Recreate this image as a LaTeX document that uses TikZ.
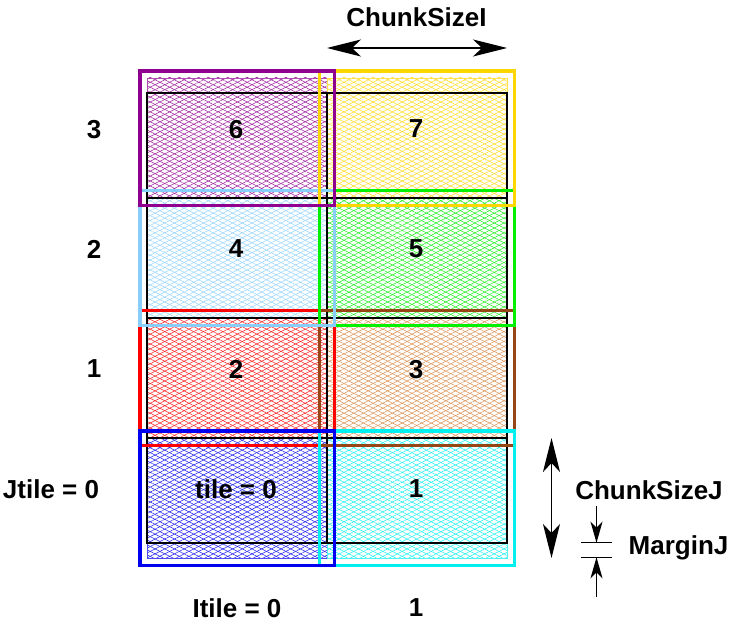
\documentclass[tikz,border=0pt]{standalone}
\usepackage{fontspec}
\setmainfont{Liberation Sans}
\usetikzlibrary{arrows.meta,patterns.meta}
\definecolor{tilepurple}{RGB}{144,0,144}
\definecolor{tilegold}{RGB}{255,214,0}
\definecolor{tilesky}{RGB}{135,206,250}
\definecolor{tilegreen}{RGB}{0,240,0}
\definecolor{tilered}{RGB}{255,0,0}
\definecolor{tilebrown}{RGB}{150,70,20}
\definecolor{tileorange}{RGB}{215,130,60}
\definecolor{tileblue}{RGB}{0,0,240}
\definecolor{tilecyan}{RGB}{0,240,240}
\tikzset{
  hatch/.style={preaction={pattern={Lines[angle=27,distance=4.4pt,line width=.55pt]},pattern color=#1!85},
    pattern={Lines[angle=-27,distance=4.4pt,line width=.55pt]},pattern color=#1!85,draw=#1!70,line width=.7pt},
  halo/.style={draw=#1,line width=3.3pt},
  gridline/.style={draw=black,line width=1.3pt},
  lab/.style={font=\fontsize{26}{30}\selectfont\bfseries,inner sep=0pt,text depth=0pt},
  dimarrow/.style={{Stealth[length=34pt,width=17pt,inset=9pt]}-{Stealth[length=34pt,width=17pt,inset=9pt]},line width=1.3pt},
  marginarrow/.style={-{Stealth[length=21pt,width=12pt,inset=6pt]},line width=1.3pt}
}
\begin{document}
\begin{tikzpicture}[x=1pt,y=-1pt]
\useasboundingbox (0,0) rectangle (733,623);
% hatched tile interiors
\foreach \c/\xa/\ya/\xb/\yb in {tileblue/147/438/327/558,tilecyan/327/438/507/558,
  tilered/147/318/327/438,tileorange/327/318/507/438,tilesky/147/198/327/318,
  tilegreen/327/198/507/318,tilepurple/147/78/327/198,tilegold/327/78/507/198}
  \filldraw[hatch=\c] (\xa,\ya) rectangle (\xb,\yb);
% domain grid
\draw[gridline] (147,93) rectangle (507,543);
\draw[gridline] (327,93) -- (327,543);
\foreach \y in {198,318,438} \draw[gridline] (147,\y) -- (507,\y);
% tiles with halo
\foreach \c/\xa/\ya/\xb/\yb in {tilered/140/310.5/334.5/445.5,tilebrown/319.5/310.5/514.5/445.5,
  tilecyan/319.5/431/514.5/565.5,tileblue/140/431/334.5/565.5,tilegreen/319.5/190.5/514.5/325.5,
  tilesky/140/190.5/334.5/325.5,tilegold/319.5/71/514.5/205.5,tilepurple/140/71/334.5/205.5}
  \draw[halo=\c] (\xa,\ya) rectangle (\xb,\yb);
% tile numbers
\node[lab] (t6) at (236,129) {6};
\node[lab] (t7) at (416,129) {7};
\node[lab] (t4) at (236,249) {4};
\node[lab] (t5) at (416,249) {5};
\node[lab] (t2) at (236,369) {2};
\node[lab] (t3) at (416,369) {3};
\node[lab] (t0) at (236,489) {tile = 0};
\node[lab] (t1) at (416,489) {1};
% tile indices
\node[lab] (j3) at (94,129) {3};
\node[lab] (j2) at (94,249) {2};
\node[lab] (j1) at (94,369) {1};
\node[lab] (j0) at (51,489) {Jtile = 0};
\node[lab] (i0) at (237,608) {Itile = 0};
\node[lab] (i1) at (416,608) {1};
% chunk sizes and margin
\node[lab] (chunkI) at (416.5,17) {ChunkSizeI};
\coordinate (cIa) at (327,48);
\coordinate (cIb) at (507,48);
\draw[dimarrow] (cIa) -- (cIb);
\node[lab] (chunkJ) at (649,490) {ChunkSizeJ};
\coordinate (cJa) at (551.5,438);
\coordinate (cJb) at (551.5,558);
\draw[dimarrow] (cJa) -- (cJb);
\node[lab] (marginJ) at (678.5,545) {MarginJ};
\draw[line width=1.3pt] (581,542.7) -- (612,542.7);
\draw[line width=1.3pt] (581,557.3) -- (612,557.3);
\coordinate (mDown) at (596.5,506);
\coordinate (mTop) at (596.5,542.7);
\coordinate (mUp) at (596.5,597);
\coordinate (mBot) at (596.5,557.3);
\draw[marginarrow] (mDown) -- (mTop);
\draw[marginarrow] (mUp) -- (mBot);
\end{tikzpicture}
\end{document}
